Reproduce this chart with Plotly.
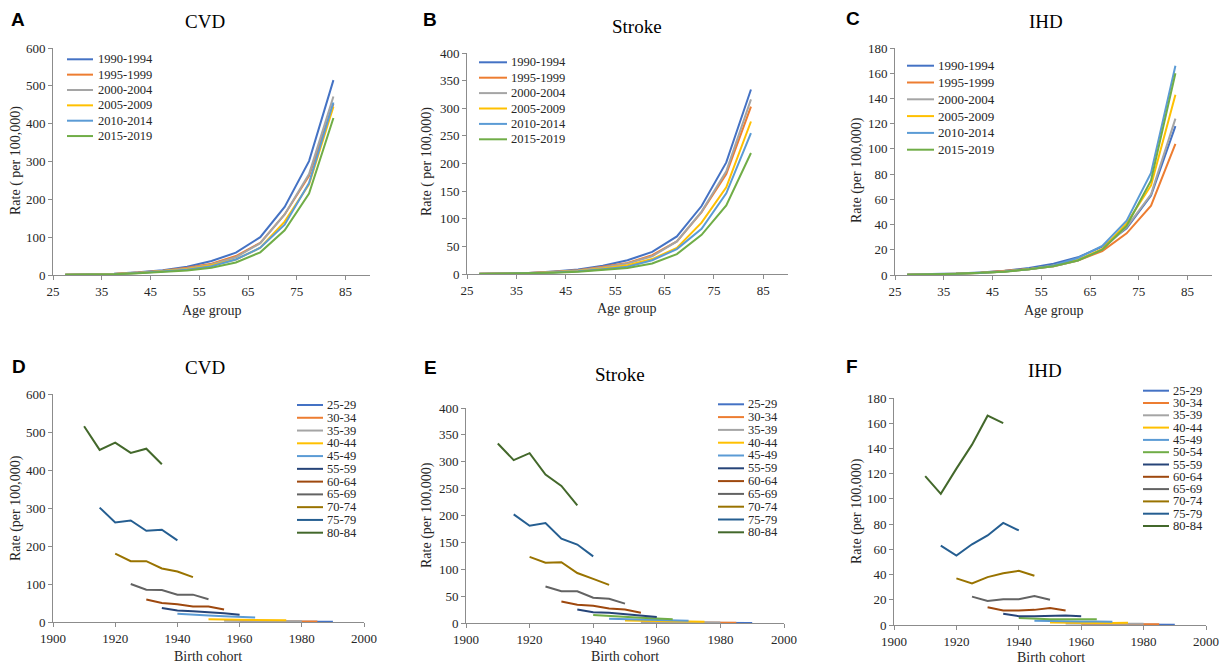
import plotly.graph_objects as go

W, H = 1223, 668

# ---------------- data ----------------
age_labels = ["25-29", "30-34", "35-39", "40-44", "45-49", "50-54",
              "55-59", "60-64", "65-69", "70-74", "75-79", "80-84"]
age_mid = [27.5, 32.5, 37.5, 42.5, 47.5, 52.5, 57.5, 62.5, 67.5, 72.5, 77.5, 82.5]
age_start = [25, 30, 35, 40, 45, 50, 55, 60, 65, 70, 75, 80]
period_labels = ["1990-1994", "1995-1999", "2000-2004", "2005-2009", "2010-2014", "2015-2019"]
period_start = [1990, 1995, 2000, 2005, 2010, 2015]

# CVD rates (per 100,000) by period, across age groups
cvd_1990 = [0.8, 1.6, 3.2, 7.0, 12.5, 22, 37, 59, 100, 180, 301, 515]
cvd_1995 = [0.7, 1.4, 2.9, 6.5, 11.0, 19, 30, 50, 85, 160, 262, 453]
cvd_2000 = [0.6, 1.3, 2.7, 6.0, 10.5, 17, 28, 47, 84, 160, 267, 472]
cvd_2005 = [0.6, 1.2, 2.5, 5.5, 9.5, 15, 26, 41, 72, 141, 240, 445]
cvd_2010 = [0.5, 1.1, 2.3, 5.0, 9.0, 14, 23, 41, 72, 133, 243, 456]
cvd_2015 = [0.5, 1.0, 2.1, 4.5, 8.0, 12, 19, 33, 60, 118, 215, 415]

# Stroke rates
stroke_1990 = [0.4, 0.9, 2.0, 4.5, 8.0, 15.0, 25, 40, 68, 123, 202, 334]
stroke_1995 = [0.35, 0.8, 1.8, 4.0, 7.0, 13.0, 20, 34, 59, 112, 181, 303]
stroke_2000 = [0.3, 0.7, 1.6, 3.6, 6.5, 12.0, 19, 32, 59, 113, 186, 316]
stroke_2005 = [0.3, 0.6, 1.4, 3.2, 5.5, 10.0, 16, 27, 47, 93, 157, 276]
stroke_2010 = [0.25, 0.6, 1.3, 2.8, 4.8, 8.5, 13, 25, 45, 82, 146, 255]
stroke_2015 = [0.2, 0.5, 1.1, 2.4, 4.0, 7.0, 11, 19, 36, 71, 124, 219]

# IHD rates
ihd_1990 = [0.3, 0.6, 1.1, 2.0, 3.3, 5.5, 9.0, 14.0, 22.5, 37, 63, 118]
ihd_1995 = [0.25, 0.5, 0.9, 1.7, 3.0, 4.8, 7.0, 11.5, 19.0, 33, 55, 104]
ihd_2000 = [0.25, 0.5, 0.9, 1.6, 2.8, 4.6, 7.0, 11.5, 20.5, 38, 64, 124]
ihd_2005 = [0.25, 0.5, 0.9, 1.6, 2.7, 4.5, 7.5, 12.0, 20.5, 41, 71, 143]
ihd_2010 = [0.25, 0.5, 0.9, 1.6, 2.7, 4.6, 7.5, 13.5, 23.0, 43, 81, 166]
ihd_2015 = [0.25, 0.5, 0.9, 1.7, 2.6, 4.5, 7.0, 11.5, 20.0, 39, 75, 160]

cvd = [cvd_1990, cvd_1995, cvd_2000, cvd_2005, cvd_2010, cvd_2015]
stroke = [stroke_1990, stroke_1995, stroke_2000, stroke_2005, stroke_2010, stroke_2015]
ihd = [ihd_1990, ihd_1995, ihd_2000, ihd_2005, ihd_2010, ihd_2015]

# cohort panels: which age rows are drawn, and which appear in the legend (as in the figure)
D_legend_labels = ["25-29", "30-34", "35-39", "40-44", "45-49", "55-59",
                   "60-64", "65-69", "70-74", "75-79", "80-84"]
D_rows = [0, 1, 2, 3, 5, 6, 7, 8, 9, 10, 11]
E_rows = list(range(12))
E_legend_labels = ["25-29", "30-34", "35-39", "40-44", "45-49", "55-59",
                   "60-64", "65-69", "70-74", "75-79", "80-84"]
F_rows = list(range(12))
F_legend_labels = age_labels

period_colors = ["#4472C4", "#ED7D31", "#A5A5A5", "#FFC000", "#5B9BD5", "#70AD47"]
age_colors = ["#4472C4", "#ED7D31", "#A5A5A5", "#FFC000", "#5B9BD5", "#70AD47",
              "#264478", "#9E480E", "#636363", "#997300", "#255E91", "#43682B"]

# ---------------- layout helpers (page pixels -> paper) ----------------
def PX(x):
    return x / W

def PY(y):
    return 1 - y / H

SERIF = "Liberation Serif"
SANS = "Liberation Sans"
AXC = "#8C8C8C"
TXT = "#262626"

fig = go.Figure()

panels = [
    dict(xd=(53, 370), yd=(275, 48), xr=[25, 90], xt=list(range(25, 90, 10)), yr=[0, 600], dt=100),
    dict(xd=(467, 788), yd=(274, 53), xr=[25, 90], xt=list(range(25, 90, 10)), yr=[0, 400], dt=50),
    dict(xd=(895, 1212), yd=(275, 48), xr=[25, 90], xt=list(range(25, 90, 10)), yr=[0, 180], dt=20),
    dict(xd=(53, 364), yd=(622, 394), xr=[1900, 2000], xt=list(range(1900, 2001, 20)), yr=[0, 600], dt=100),
    dict(xd=(466, 784), yd=(623, 408), xr=[1900, 2000], xt=list(range(1900, 2001, 20)), yr=[0, 400], dt=50),
    dict(xd=(894, 1206), yd=(625, 398), xr=[1900, 2000], xt=list(range(1900, 2001, 20)), yr=[0, 180], dt=20),
]

layout_axes = {}
for i, p in enumerate(panels):
    n = "" if i == 0 else str(i + 1)
    layout_axes["xaxis" + n] = dict(
        domain=[PX(p["xd"][0]), PX(p["xd"][1])], range=p["xr"], tickvals=p["xt"],
        anchor="y" + n, showgrid=False, zeroline=False, showline=True,
        linecolor=AXC, linewidth=1, ticks="outside", ticklen=4, tickcolor=AXC,
        tickfont=dict(family=SERIF, size=13, color=TXT), fixedrange=True)
    layout_axes["yaxis" + n] = dict(
        domain=[PY(p["yd"][0]), PY(p["yd"][1])], range=p["yr"], dtick=p["dt"], tick0=0,
        anchor="x" + n, showgrid=False, zeroline=False, showline=True,
        linecolor=AXC, linewidth=1, ticks="outside", ticklen=4, tickcolor=AXC,
        tickfont=dict(family=SERIF, size=13, color=TXT), fixedrange=True)

# ---------------- traces ----------------
for k, (data, n) in enumerate([(cvd, ""), (stroke, "2"), (ihd, "3")]):
    for i in range(6):
        fig.add_trace(go.Scatter(
            x=age_mid, y=data[i], mode="lines", name=period_labels[i],
            line=dict(color=period_colors[i], width=2),
            xaxis="x" + n, yaxis="y" + n, showlegend=False))

def add_cohort(data, rows, n):
    for j in rows:
        xs = [period_start[i] - age_start[j] for i in range(6)]
        ys = [data[i][j] for i in range(6)]
        fig.add_trace(go.Scatter(
            x=xs, y=ys, mode="lines", name=age_labels[j],
            line=dict(color=age_colors[j], width=2),
            xaxis="x" + n, yaxis="y" + n, showlegend=False))

# panel D: the light-blue series starts at the 1940 cohort and is labelled 45-49
for idx, j in enumerate(D_rows):
    xs = [period_start[i] - age_start[j] for i in range(6)]
    ys = [cvd[i][j] for i in range(6)]
    lab = D_legend_labels[idx]
    fig.add_trace(go.Scatter(
        x=xs, y=ys, mode="lines", name=lab,
        line=dict(color=age_colors[age_labels.index(lab)], width=2),
        xaxis="x4", yaxis="y4", showlegend=False))
add_cohort(stroke, E_rows, "5")
add_cohort(ihd, F_rows, "6")

# ---------------- annotations ----------------
ann = []
shapes = []

letters = [("A", 18, 19), ("B", 430, 19), ("C", 853, 18), ("D", 19, 366), ("E", 430, 367), ("F", 852, 366)]
for t, x, y in letters:
    ann.append(dict(text="<b>%s</b>" % t, x=PX(x), y=PY(y), xref="paper", yref="paper",
                    xanchor="center", yanchor="middle", showarrow=False,
                    font=dict(family=SANS, size=19, color="black")))

titles = [("CVD", 205, 21), ("Stroke", 637, 26), ("IHD", 1046, 21),
          ("CVD", 205, 367), ("Stroke", 620, 374), ("IHD", 1045, 370)]
for t, x, y in titles:
    ann.append(dict(text=t, x=PX(x), y=PY(y), xref="paper", yref="paper",
                    xanchor="center", yanchor="middle", showarrow=False,
                    font=dict(family=SERIF, size=19, color="black")))

ytitles = [("Rate ( per 100,000)", 16, 161), ("Rate ( per 100,000)", 427, 162),
           ("Rate (per 100,000)", 857, 170), ("Rate (per 100,000)", 16, 508),
           ("Rate (per 100,000)", 427, 515), ("Rate (per 100,000)", 857, 511)]
for t, x, y in ytitles:
    ann.append(dict(text=t, x=PX(x), y=PY(y), xref="paper", yref="paper", textangle=-90,
                    xanchor="center", yanchor="middle", showarrow=False,
                    font=dict(family=SERIF, size=14, color=TXT)))

xtitles = [("Age group", 212, 311), ("Age group", 627, 309), ("Age group", 1054, 311),
           ("Birth cohort", 208, 656), ("Birth cohort", 625, 656), ("Birth cohort", 1051, 657)]
for t, x, y in xtitles:
    ann.append(dict(text=t, x=PX(x), y=PY(y), xref="paper", yref="paper",
                    xanchor="center", yanchor="middle", showarrow=False,
                    font=dict(family=SERIF, size=14, color=TXT)))

legends = [
    (period_labels, period_colors, 67, 93, 96, 59.3, 15.35, 12.5),
    (period_labels, period_colors, 479, 507, 509, 62.3, 15.4, 12.5),
    (period_labels, period_colors, 907, 934, 936, 65.7, 16.8, 13),
    (D_legend_labels, [age_colors[age_labels.index(l)] for l in D_legend_labels], 297, 323, 325, 405, 12.77, 12.5),
    (E_legend_labels, [age_colors[age_labels.index(l)] for l in E_legend_labels], 718, 744, 746, 404.3, 12.8, 12.5),
    (F_legend_labels, [age_colors[age_labels.index(l)] for l in F_legend_labels], 1143, 1169, 1171, 390.7, 12.3, 12.5),
]
for labs, cols, x0, x1, xt, y0, dy, fs in legends:
    for r, (lab, col) in enumerate(zip(labs, cols)):
        y = y0 + r * dy
        shapes.append(dict(type="line", xref="paper", yref="paper",
                           x0=PX(x0), x1=PX(x1), y0=PY(y), y1=PY(y),
                           line=dict(color=col, width=2)))
        ann.append(dict(text=lab, x=PX(xt), y=PY(y), xref="paper", yref="paper",
                        xanchor="left", yanchor="middle", showarrow=False,
                        font=dict(family=SERIF, size=fs, color=TXT)))

fig.update_layout(
    width=W, height=H, margin=dict(l=0, r=0, t=0, b=0, pad=0, autoexpand=False),
    paper_bgcolor="white", plot_bgcolor="white", showlegend=False,
    font=dict(family=SERIF),
    annotations=ann, shapes=shapes, **layout_axes)

fig.write_html(
    "out.html",
    config={"displayModeBar": False},
    post_script="document.body.style.margin='0';document.body.style.overflow='hidden';")
